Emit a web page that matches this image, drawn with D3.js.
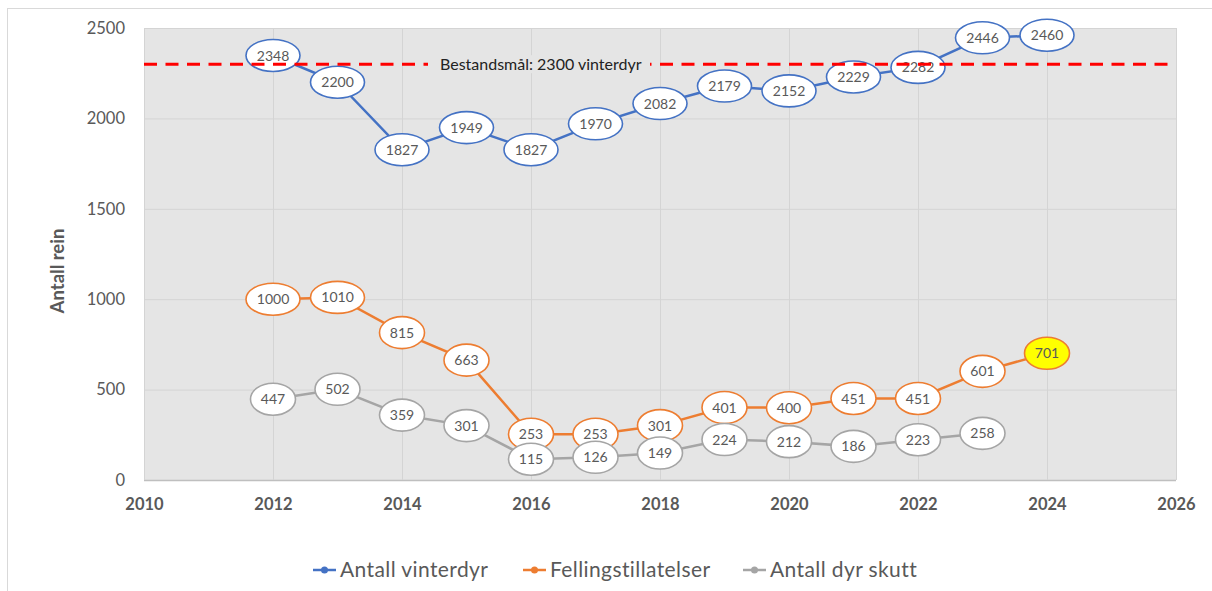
<!DOCTYPE html>
<html lang="no">
  <head>
    <meta charset="UTF-8" />
    <title>Antall rein</title>
    <style>
      body { margin: 0; background: #fff; }
      text { font-family: Lato, 'Open Sans', sans-serif; }
    </style>
    <script src="https://d3js.org/d3.v7.min.js"></script>
  </head>
  <body>
    <div class="d3Chart"></div>
    <script>
      // data
      var years = [2012, 2013, 2014, 2015, 2016, 2017, 2018, 2019, 2020, 2021, 2022, 2023, 2024]
      var vinterdyr = [2348, 2200, 1827, 1949, 1827, 1970, 2082, 2179, 2152, 2229, 2282, 2446, 2460]
      var felling = [1000, 1010, 815, 663, 253, 253, 301, 401, 400, 451, 451, 601, 701]
      var skutt = [447, 502, 359, 301, 115, 126, 149, 224, 212, 186, 223, 258]
      var seriesNames = ['Antall vinterdyr', 'Fellingstillatelser', 'Antall dyr skutt']
      var xTicks = [2010, 2012, 2014, 2016, 2018, 2020, 2022, 2024, 2026]
      var yTicks = [0, 500, 1000, 1500, 2000, 2500]
      var target = 2300
      var targetLabel = 'Bestandsmål: 2300 vinterdyr'
      var highlightYear = 2024

      var colors = ['#4472c4', '#ed7d31', '#a5a5a5']
      var width = 1212
      var height = 591

      var svg = d3.select('.d3Chart').append('svg').attr('width', width).attr('height', height)

      // chart frame
      svg.append('rect')
        .attr('x', 7.5).attr('y', 8.5)
        .attr('width', 1212).attr('height', 590)
        .attr('fill', '#fff').attr('stroke', '#d9d9d9')

      var x = d3.scaleLinear().domain([2010, 2026]).range([144, 1176])
      var y = d3.scaleLinear().domain([0, 2500]).range([480, 28])

      // plot background
      svg.append('rect')
        .attr('x', x(2010)).attr('y', y(2500))
        .attr('width', x(2026) - x(2010)).attr('height', y(0) - y(2500))
        .attr('fill', '#e5e5e5')

      // grid
      svg.append('g').selectAll('line').data(yTicks).enter().append('line')
        .attr('x1', x(2010)).attr('x2', x(2026))
        .attr('y1', (d) => y(d) + 0.5).attr('y2', (d) => y(d) + 0.5)
        .attr('stroke', (d) => (d === 0 ? '#bfbfbf' : '#d4d4d4'))
        .attr('stroke-width', (d) => (d === 0 ? 1.5 : 1))
      svg.append('g').selectAll('line').data(xTicks).enter().append('line')
        .attr('x1', (d) => x(d) + 0.5).attr('x2', (d) => x(d) + 0.5)
        .attr('y1', y(2500)).attr('y2', y(0))
        .attr('stroke', '#d4d4d4')

      // axes
      var xAxis = svg.append('g')
        .attr('transform', 'translate(0,' + (y(0) + 15) + ')')
        .call(d3.axisBottom(x).tickValues(xTicks).tickFormat(d3.format('d')).tickSize(0))
      xAxis.select('.domain').remove()
      xAxis.selectAll('text')
        .attr('font-size', 16.5).attr('font-weight', 'bold').attr('fill', '#595959')
        .attr('font-family', 'Lato, sans-serif')

      var yAxis = svg.append('g')
        .attr('transform', 'translate(' + (x(2010) - 16) + ',0)')
        .call(d3.axisLeft(y).tickValues(yTicks).tickFormat(d3.format('d')).tickSize(0))
      yAxis.select('.domain').remove()
      yAxis.selectAll('text')
        .attr('font-size', 16.5).attr('fill', '#595959')
        .attr('font-family', 'Lato, sans-serif')

      svg.append('text')
        .attr('transform', 'translate(64,271) rotate(-90)')
        .attr('text-anchor', 'middle')
        .attr('font-size', 18.5).attr('font-weight', 'bold').attr('fill', '#595959')
        .text('Antall rein')

      var series = [vinterdyr, felling, skutt].map((vals, i) => ({
        name: seriesNames[i],
        color: colors[i],
        points: vals.map((v, j) => ({ year: years[j], value: v }))
      }))

      var line = d3.line().x((d) => x(d.year)).y((d) => y(d.value))

      // lines
      svg.append('g').selectAll('path').data(series).enter().append('path')
        .attr('d', (d) => line(d.points))
        .attr('fill', 'none')
        .attr('stroke', (d) => d.color)
        .attr('stroke-width', 2.5)

      // data labels (ellipses)
      series.forEach(function (s) {
        var g = svg.append('g').selectAll('g').data(s.points).enter().append('g')
          .attr('transform', (d) => 'translate(' + x(d.year) + ',' + y(d.value) + ')')
        g.append('ellipse')
          .attr('rx', (d) => (String(d.value).length > 3 ? 27 : 22.5))
          .attr('ry', 16)
          .attr('fill', (d) => (s.name === 'Fellingstillatelser' && d.year === highlightYear ? '#ffff00' : '#fff'))
          .attr('stroke', s.color)
          .attr('stroke-width', 1.6)
        g.append('text')
          .attr('text-anchor', 'middle')
          .attr('dy', '0.36em')
          .attr('font-size', 14).attr('fill', '#595959')
          .text((d) => d.value)
      })

      // target line
      svg.append('line')
        .attr('x1', x(2010)).attr('x2', 1170)
        .attr('y1', y(target)).attr('y2', y(target))
        .attr('stroke', '#ff0000').attr('stroke-width', 3)
        .attr('stroke-dasharray', '13,8.5')
      var tl = svg.append('g').attr('transform', 'translate(440,' + y(target) + ')')
      tl.append('rect')
        .attr('x', -12).attr('y', -9).attr('width', 222).attr('height', 18)
        .attr('fill', '#e5e5e5')
      tl.append('text')
        .attr('dy', '0.36em')
        .attr('font-size', 16).attr('fill', '#222')
        .text(targetLabel)

      // legend
      var legendX = [313, 523, 743]
      var lg = svg.append('g').selectAll('g').data(series).enter().append('g')
        .attr('transform', (d, i) => 'translate(' + legendX[i] + ',570)')
      lg.append('line').attr('x1', 0).attr('x2', 23)
        .attr('stroke', (d) => d.color).attr('stroke-width', 2.5)
      lg.append('circle').attr('cx', 11.5).attr('r', 3.5).attr('fill', (d) => d.color)
      lg.append('text').attr('x', 27).attr('dy', '0.35em')
        .attr('font-size', 21).attr('letter-spacing', 0.4).attr('fill', '#595959')
        .text((d) => d.name)
    </script>
  </body>
</html>
